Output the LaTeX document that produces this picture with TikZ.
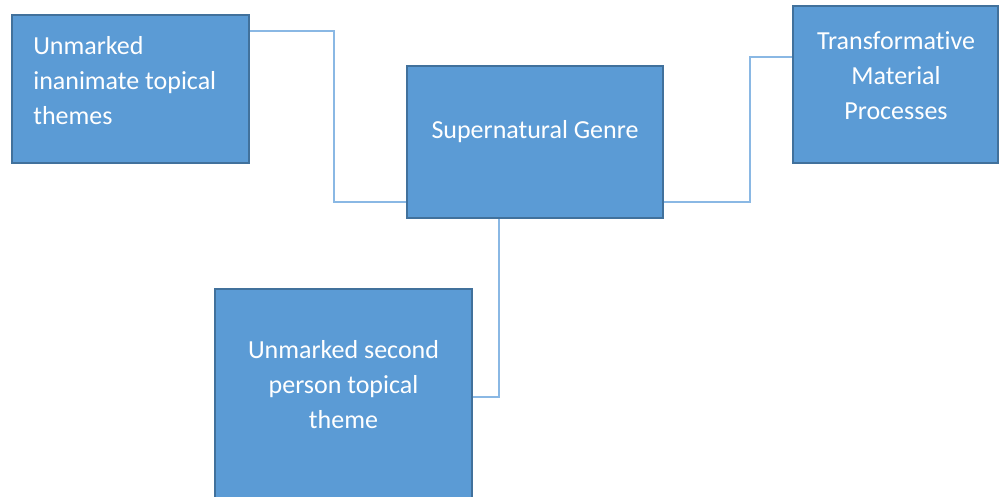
\documentclass[tikz,border=0pt]{standalone}
\usepackage{tikz}
\usepackage{fontspec}
\setmainfont{Carlito}[Ligatures={NoCommon}]
\usetikzlibrary{arrows,positioning}
\definecolor{boxfill}{HTML}{5B9BD5}
\definecolor{boxline}{HTML}{41719C}
\definecolor{linkcol}{HTML}{8AB8E4}

\begin{document}
\begin{tikzpicture}[x=1pt,y=-1pt,semithick,
                    box/.style={rectangle,draw=boxline,fill=boxfill,line width=2.2pt,inner sep=0pt},
                    txt/.style={text=white,font=\fontsize{26}{35}\selectfont,inner sep=0pt},
                    link/.style={draw=linkcol,line width=1.5pt}]

 \useasboundingbox (0,0) rectangle (999,497);

 \node[box,minimum width=237pt,minimum height=148pt](A) at (130.5,89) {};
 \node[box,minimum width=256pt,minimum height=152pt](B) at (535,142) {};
 \node[box,minimum width=205pt,minimum height=157pt](C) at (895.5,84.5) {};
 \node[box,minimum width=257pt,minimum height=216pt](D) at (343.5,397) {};

 \node[txt,align=left,anchor=west](At) at (33,81) {Unmarked\\inanimate topical\\themes};
 \node[txt](Bt) at (535,132) {Supernatural Genre};
 \node[txt,align=center](Ct) at (896,76) {Transformative\\Material\\Processes};
 \node[txt,align=center](Dt) at (343.5,385) {Unmarked second\\person topical\\theme};

 \draw[link] ([yshift=-17pt]A.north east) -- ++(84,0) |- ([yshift=17pt]B.south west);
 \draw[link] ([yshift=17pt]B.south east) -- ++(86,0) |- ([yshift=-52pt]C.north west);
 \draw[link] ([xshift=-36pt]B.south) |- (D.east);

\end{tikzpicture}
\end{document}
